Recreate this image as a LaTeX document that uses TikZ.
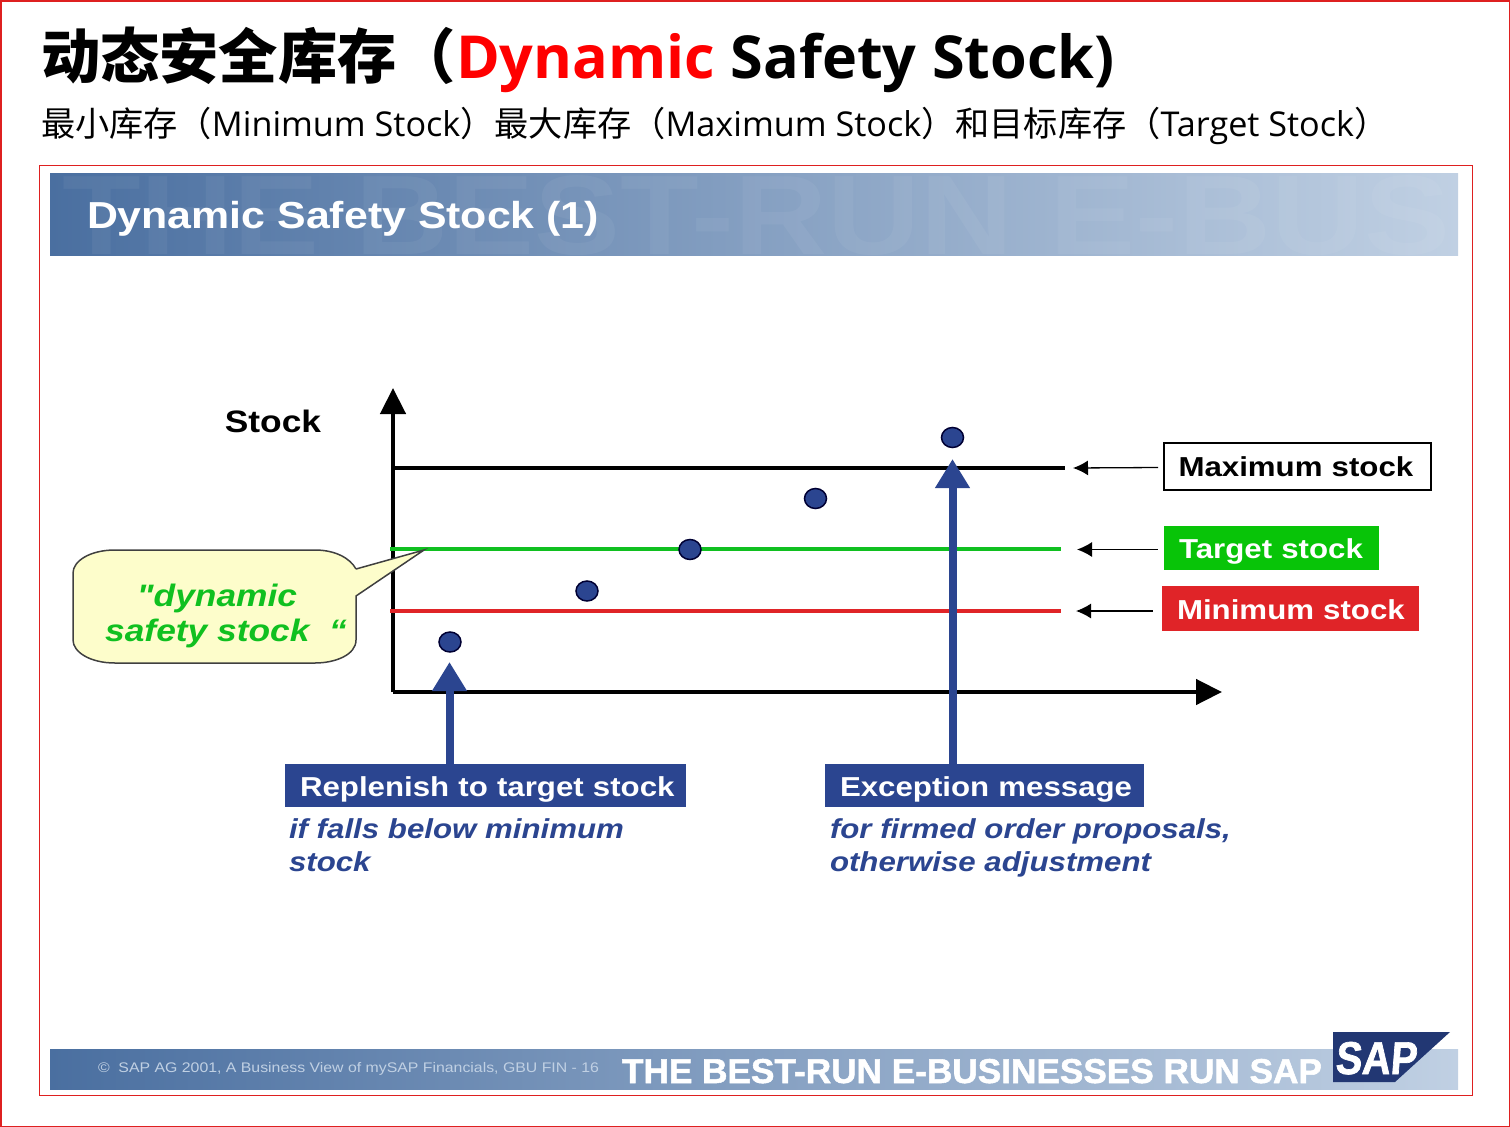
\documentclass[tikz,border=0pt]{standalone}
\usepackage{fontspec}
\usepackage{xcolor}
\usetikzlibrary{arrows.meta,positioning,shapes.geometric}
\newfontfamily\cjk{Noto Sans CJK SC}
\newfontfamily\headfont{Open Sans}
\newfontfamily\slidefont[FakeStretch=1.14]{Liberation Sans}
\newfontfamily\sloganfont[FakeStretch=1.02,FakeBold=1.5]{Liberation Sans}
\newfontfamily\logofont[FakeStretch=0.86,FakeSlant=0.08,FakeBold=1.5]{Liberation Sans}
\newcommand{\titlecjk}[1]{{\cjk\bfseries #1}}
\definecolor{framered}{HTML}{DE2020}
\definecolor{sapblue}{HTML}{2B4590}
\definecolor{levelgreen}{HTML}{10C020}
\definecolor{boxgreen}{HTML}{08C408}
\definecolor{levelred}{HTML}{E02428}
\definecolor{bubble}{HTML}{FDFDCB}
\definecolor{bandleft}{HTML}{4A6FA0}
\definecolor{bandright}{HTML}{C0D0E3}

\begin{document}
\begin{tikzpicture}[
    x=1pt, y=-1pt,
    every node/.style={inner sep=0pt, outer sep=0pt},
    band/.style={left color=bandleft, right color=bandright, minimum width=1408pt},
    levelbox/.style={anchor=north west, font=\slidefont\fontsize{27.4}{32}\selectfont\bfseries, align=left, inner xsep=15pt, text height=21.5pt, text depth=0pt},
    bluebox/.style={levelbox, fill=sapblue, text=white, minimum height=43pt},
    note/.style={anchor=north west, align=left, text=sapblue, font=\slidefont\fontsize{27.4}{33}\selectfont\bfseries\itshape},
    dot/.style={ellipse, draw=black!80!blue, line width=1.5pt, fill=sapblue, minimum width=22pt, minimum height=20pt},
    level/.style={line width=4pt},
    pointer/.style={{Latex[length=15pt, width=15pt]}-, line width=1.3pt},
    riser/.style={-{Triangle[length=29pt, width=33pt]}, line width=8pt, sapblue},
    axis/.style={-{Triangle[length=26pt, width=25pt]}, line width=4.5pt}
]
    \path[use as bounding box] (0,0) rectangle (1510,1127);
    \draw[framered, line width=1.5pt] (0.75,0.75) rectangle (1509.25,1126.25);
    \draw[framered, line width=1.2pt] (39.5,165.5) rectangle (1472.5,1095.5);

    \node[anchor=base west] (title) at (41,78) {\fontsize{59.3}{64}\selectfont\titlecjk{动态安全库存（}\headfont\bfseries\textcolor{red}{Dynamic} Safety Stock)};
    \node[anchor=base west] (subtitle) at (41,136) {\fontsize{34.2}{40}\selectfont\cjk 最小库存（\headfont Minimum Stock\cjk ）最大库存（\headfont Maximum Stock\cjk ）和目标库存（\headfont Target Stock\cjk ）};

    \node[band, minimum height=82pt] (header) at (754,214) {};
    \node[anchor=base west, text=white, opacity=0.05, font=\slidefont\fontsize{113}{113}\selectfont\bfseries] (mark) at (62,254) {THE BEST-RUN E-BUS};
    \node[anchor=base west, text=white, font=\slidefont\fontsize{37.6}{40}\selectfont\bfseries] (headertext) at (87,228) {Dynamic Safety Stock (1)};

    \node[band, minimum height=40pt] (footer) at (754,1069) {};
    \node[anchor=base west, text=bandright, font=\slidefont\fontsize{13.9}{16}\selectfont] (copyright) at (98,1072) {©\ \ SAP AG 2001, A Business View of mySAP Financials, GBU FIN - 16};
    \node[anchor=base west, text=white, font=\sloganfont\fontsize{34.5}{36}\selectfont\bfseries] (slogan) at (622,1083) {THE BEST-RUN E-BUSINESSES RUN SAP};
    \fill[sapblue!80!black] (1333,1032) -- (1450,1032) -- (1395,1082) -- (1333,1082) -- cycle;
    \node[anchor=base west, text=white, font=\logofont\fontsize{46}{46}\selectfont\bfseries] (logo) at (1335,1074) {SAP};

    \node[anchor=center, font=\slidefont\fontsize{31}{34}\selectfont\bfseries] (stock) at (273,421) {Stock};

    \coordinate (origin) at (393,692);
    \coordinate (ytip) at (393,388);
    \coordinate (xtip) at (1222,692);
    \coordinate (maxstart) at (393,467.5);
    \coordinate (maxend) at (1065,467.5);
    \coordinate (targetstart) at (390,549);
    \coordinate (targetend) at (1061,549);
    \coordinate (minstart) at (390,610.5);
    \coordinate (minend) at (1061,610.5);

    \draw[level, black] (maxstart) -- (maxend);
    \draw[axis] (origin) -- (ytip);
    \draw[axis] (origin) -- (xtip);
    \draw[level, levelgreen] (targetstart) -- (targetend);
    \draw[level, levelred] (minstart) -- (minend);

    \draw[line width=1.5pt, black!75, fill=bubble] (356,569) -- (424,550) -- (356,596) -- (356,640)
        .. controls (356,655) and (335,663) .. (315,663) -- (115,663)
        .. controls (90,663) and (73,652) .. (73,640) -- (73,573)
        .. controls (73,561) and (90,550) .. (115,550) -- (315,550)
        .. controls (335,550) and (350,558) .. (356,569);
    \node[align=center, text=levelgreen, font=\slidefont\fontsize{31}{35}\selectfont\bfseries\itshape] (callout) at (226,616) {"dynamic\hspace*{18pt}\\safety stock\ \ “};

    \node[dot] (dota) at (450,642) {};
    \node[dot] (dotb) at (587,591) {};
    \node[dot] (dotc) at (690,549.5) {};
    \node[dot] (dotd) at (815.5,498.5) {};
    \node[dot] (dote) at (952.5,437.5) {};

    \node[levelbox, draw=black, line width=2pt, text width=237pt, minimum height=47pt] (maxbox) at (1163.5,442.5) {\mbox{Maximum stock}};
    \node[levelbox, fill=boxgreen, text=white, text width=185pt, minimum height=44pt] (targetbox) at (1164,526) {\mbox{Target stock}};
    \node[levelbox, fill=levelred, text=white, text width=227pt, minimum height=45pt] (minbox) at (1162,586) {\mbox{Minimum stock}};

    \coordinate (maxtip) at (1073,468);
    \coordinate (targettip) at (1077,549.5);
    \coordinate (mintip) at (1076,611);
    \coordinate (maxtail) at (1158,467.5);
    \coordinate (targettail) at (1158,549.5);
    \coordinate (mintail) at (1153,611);
    \draw[pointer] (maxtip) -- (maxtail);
    \draw[pointer] (targettip) -- (targettail);
    \draw[pointer] (mintip) -- (mintail);

    \node[bluebox, text width=371pt] (replenish) at (285,764) {\mbox{Replenish to target stock}};
    \node[bluebox, text width=289pt] (exception) at (825,764) {\mbox{Exception message}};
    \node[note, below=12pt of replenish.south west, anchor=north west, xshift=4pt] (replenishnote) {if falls below minimum\\stock};
    \node[note, below=12pt of exception.south west, anchor=north west, xshift=5pt] (exceptionnote) {for firmed order proposals,\\otherwise adjustment};

    \coordinate (replenishtip) at (449.5,662);
    \coordinate (replenishtail) at (449.5,764);
    \coordinate (exceptiontip) at (952.5,459);
    \coordinate (exceptiontail) at (952.5,764);
    \draw[riser] (replenishtail) -- (replenishtip);
    \draw[riser] (exceptiontail) -- (exceptiontip);
\end{tikzpicture}
\end{document}
